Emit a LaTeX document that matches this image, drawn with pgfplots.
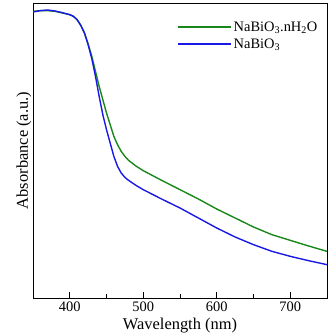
\documentclass[border=0pt]{standalone}
\usepackage{pgfplots}
\pgfplotsset{compat=1.18}
\usepackage{fontspec}
\setmainfont{Liberation Serif}
\usetikzlibrary{calc}
\definecolor{cgreen}{RGB}{25,135,25}
\definecolor{cblue}{RGB}{25,25,230}
\begin{document}
\begin{tikzpicture}
\begin{axis}[
  scale only axis,
  width=294bp, height=295bp,
  xmin=350, xmax=750, ymin=0, ymax=885,
  xtick={400,500,600,700},
  minor xtick={450,550,650},
  ytick=\empty,
  tick align=inside,
  xtick pos=bottom,
  major tick length=6bp,
  minor tick length=4bp,
  tick style={black, line width=0.8pt},
  axis line style={line width=0.8pt},
  /pgf/number format/assume math mode=true,
  tick label style={font=\fontsize{14.5}{16}\selectfont},
  xlabel={Wavelength (nm)},
  ylabel={Absorbance (a.u.)},
  label style={font=\fontsize{16.5}{18}\selectfont},
  ylabel style={yshift=-2bp},
  legend style={draw=none, fill=none, at={(0.985,0.96)}, anchor=north east,
    font=\fontsize{14.5}{16}\selectfont, row sep=-3bp,
    nodes={inner ysep=4.5bp}},
  legend cell align=left,
]
\addplot[cgreen, line width=1.4pt,
  legend image code/.code={\draw[cgreen, line width=1.4pt] (-8bp,0bp) -- (45bp,0bp);}] coordinates {
(350,860)(360,862)(370,862)(380,860)(390,855)(400,850)(405,845)(410,835)(415,818)(420,795)(425,762)(430,725)(435,680)(440,635)(445,595)(450,555)(455,520)(460,485)(465,460)(470,440)(475,425)(480,413)(490,396)(500,382)(525,353)(550,325)(575,297)(600,267)(625,240)(650,213)(675,190)(700,173)(725,156)(750,140)
};
\addlegendentry{NaBiO\textsubscript{3}.nH\textsubscript{2}O}
\addplot[cblue, line width=1.4pt,
  legend image code/.code={\draw[cblue, line width=1.4pt] (-8bp,0bp) -- (45bp,0bp);}] coordinates {
(350,858)(360,862)(370,864)(380,861)(390,856)(400,850)(405,845)(410,835)(415,818)(420,795)(425,760)(430,718)(435,665)(440,605)(445,550)(450,505)(455,465)(460,425)(465,395)(470,375)(475,362)(480,353)(490,338)(500,325)(525,297)(550,270)(575,240)(600,210)(625,183)(650,160)(675,140)(700,125)(725,112)(750,100)
};
\addlegendentry{NaBiO\textsubscript{3}}
\end{axis}
\pgfresetboundingbox
\path ($(current axis.south west)+(-33bp,-38bp)$) rectangle ($(current axis.north east)+(4bp,3bp)$);
\end{tikzpicture}
\end{document}
